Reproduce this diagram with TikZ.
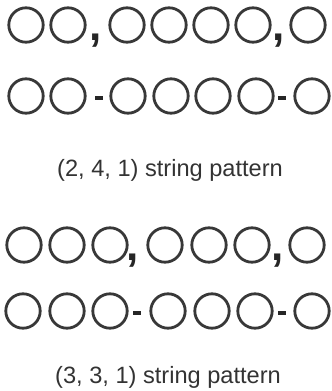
\documentclass[tikz,border=0pt]{standalone}
\usepackage{fontspec}
\setmainfont{Liberation Sans}
\usetikzlibrary{positioning}

\begin{document}
\begin{tikzpicture}[
            x=0.5pt, y=-0.5pt,
            bead/.style={circle, draw=black!78, fill=white, line width=1.4pt, minimum size=17.2pt, inner sep=0pt},
            comma sep/.style={anchor=base, inner sep=0pt, text=black!85, font=\fontsize{22}{22}\selectfont\bfseries},
            dash sep/.style={rectangle, fill=black!85, minimum width=4pt, minimum height=2.4pt, inner sep=0pt},
            caption/.style={inner sep=0pt, text=black!80, font=\fontsize{11.8}{14}\selectfont},
        ]
        \useasboundingbox (0,0) rectangle (332,391);

        % (2, 4, 1), top pair of rows
        \foreach \x [count=\i] in {26,68,127,169,211,253,308}
            \node[bead] (a\i) at (\x,25) {};
        \node[comma sep] (acomma1) at (96,40) {,};
        \node[comma sep] (acomma2) at (279,40) {,};

        \foreach \x [count=\i] in {26,68,128,171,213,256,312}
            \node[bead] (b\i) at (\x,96) {};
        \node[dash sep] (bdash1) at (99,98) {};
        \node[dash sep] (bdash2) at (282,98) {};

        \node[caption] (capA) at (170,170) {(2, 4, 1) string pattern};

        % (3, 3, 1), bottom pair of rows
        \foreach \x [count=\i] in {24,67,110,165,209,252,307}
            \node[bead] (c\i) at (\x,245) {};
        \node[comma sep] (ccomma1) at (133,260) {,};
        \node[comma sep] (ccomma2) at (278,260) {,};

        \foreach \x [count=\i] in {23,67,110,168,212,255,312}
            \node[bead] (d\i) at (\x,311) {};
        \node[dash sep] (ddash1) at (137,313) {};
        \node[dash sep] (ddash2) at (282,313) {};

        \node[caption] (capB) at (168,377) {(3, 3, 1) string pattern};
\end{tikzpicture}
\end{document}
